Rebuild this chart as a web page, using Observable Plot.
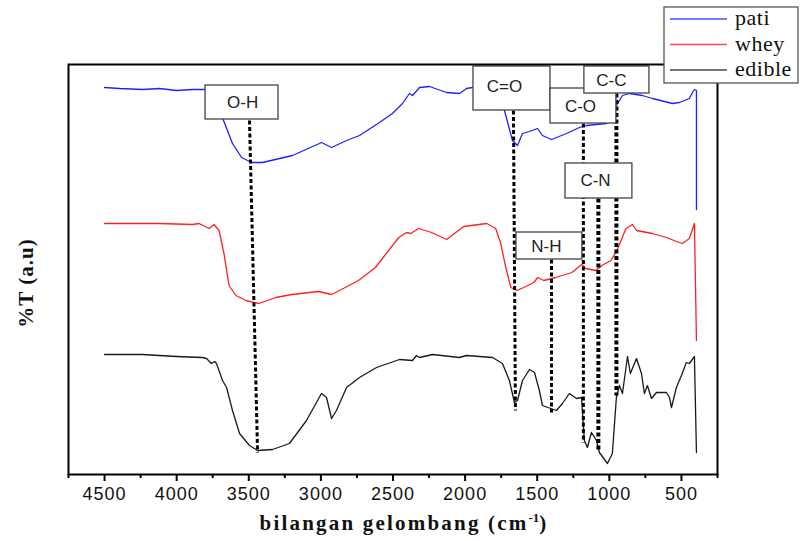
<!DOCTYPE html>
<html><head><meta charset="utf-8">
<script src="https://cdn.jsdelivr.net/npm/d3@7"></script>
<script src="https://cdn.jsdelivr.net/npm/@observablehq/plot@0.6"></script>
<style>body{margin:0;background:#fff} svg{display:block}</style>
</head><body><div id="chart"></div>
<script>
const seriesNames = ["pati", "whey", "edible"];
const seriesColors = ["#2020ff", "#ff2020", "#1a1a1a"];

const patiWn = [4500,4395,4236,4119,4001,3890,3793,3737,3703,3675,3613,3550,3480,3405,3197,3010,2996,2926,2822,2732,2594,2504,2434,2386,2365,2316,2247,2129,2039,1990,1949,1866,1762,1727,1672,1637,1602,1554,1498,1464,1401,1297,1207,1159,1020,951,909,861,771,701,563,514,445,424,410,396,396];
const patiT = [387,386,385,386,384,385,385,379,366,354,331,317,312,312,319,331,332,327,334,339,352,361,371,381,379,387,388,382,381,386,387,387,379,364,334,329,341,343,346,339,335,341,347,349,351,369,379,381,379,376,371,372,376,382,385,384,265];

const wheyWn = [4500,4119,3890,3844,3775,3741,3706,3672,3637,3589,3520,3430,3313,3202,3016,2926,2857,2740,2622,2460,2405,2377,2322,2232,2128,2010,1850,1788,1753,1718,1683,1641,1593,1524,1496,1454,1371,1260,1191,1163,1094,1052,989,947,885,840,812,701,604,535,493,445,410,396];
const wheyT = [251,251,250,251,246,250,244,221,189,179,174,171,177,180,183,180,185,194,207,237,242,241,246,242,235,248,251,246,231,207,187,184,187,192,197,194,197,202,210,206,204,209,214,224,246,250,244,241,237,233,231,236,251,134];

const edibleWn = [4500,4237,4001,3821,3793,3759,3737,3724,3682,3654,3613,3564,3495,3439,3335,3218,3100,2996,2961,2926,2892,2822,2732,2614,2455,2365,2337,2316,2226,2039,1990,1810,1741,1693,1658,1637,1602,1554,1519,1485,1464,1367,1325,1277,1228,1193,1173,1152,1124,1089,1069,1013,979,951,930,909,874,854,812,777,757,736,708,673,604,583,569,535,500,466,445,410,396];
const edibleT = [120,120,118,117,116,111,113,111,94,87,64,41,29,24,25,31,54,81,77,56,64,87,97,107,115,114,119,117,120,117,119,117,111,94,72,74,94,105,102,84,69,64,71,81,76,77,34,27,42,34,22,11,21,77,89,81,118,101,116,101,81,89,76,82,82,77,67,87,99,112,111,118,22];

const majorTicks = [4500,4000,3500,3000,2500,2000,1500,1000,500];
const minorTicks = [4750,4250,3750,3250,2750,2250,1750,1250,750,250];

// band annotations (wavenumber / a.u.)
const bandLabels = ["O-H","C=O","C-O","C-C","N-H","C-N"];
const boxX1 = [3800,1942,1408,1173,1644,1304];
const boxX2 = [3294,1408,951,722,1187,840];
const boxY1 = [355,364,351,381,215,276];
const boxY2 = [389,408,386,408,242,311];
const labelX = [3543,1727,1200,986,1436,1096];
const labelY = [372,388,368,394,228,294];
const dashX1 = [3495,1665,1180,951,1401,1076];
const dashX2 = [3439,1651,1180,951,1401,1076];
const dashY1 = [354,364,351,381,215,276];
const dashY2 = [22,64,32,79,62,24];
const dashW = [3,3,3,4,3,4];

const spectra = [];
[[patiWn, patiT], [wheyWn, wheyT], [edibleWn, edibleT]].forEach(([w, t], i) => {
  w.forEach((x, j) => spectra.push({series: seriesNames[i], wn: x, t: t[j]}));
});
const bands = bandLabels.map((label, i) => ({
  label, bx1: boxX1[i], bx2: boxX2[i], by1: boxY1[i], by2: boxY2[i],
  lx: labelX[i], ly: labelY[i],
  dx1: dashX1[i], dx2: dashX2[i], dy1: dashY1[i], dy2: dashY2[i], dw: dashW[i]
}));

const svg = Plot.plot({
  width: 801,
  height: 541,
  marginLeft: 68,
  marginRight: 84,
  marginTop: 64,
  marginBottom: 67,
  style: {background: "#fff", fontFamily: "'Liberation Sans', Arial, sans-serif"},
  x: {domain: [4750, 250], label: null},
  y: {domain: [0, 410], axis: null},
  color: {domain: seriesNames, range: seriesColors},
  marks: [
    Plot.line(spectra, {x: "wn", y: "t", z: "series", stroke: "series", strokeWidth: 1.3, curve: "linear"}),
    ...bands.map(b => Plot.link([b], {x1: "dx1", x2: "dx2", y1: "dy1", y2: "dy2", stroke: "#000", strokeWidth: b.dw, strokeDasharray: "4,2.5"})),
    Plot.rect(bands, {x1: "bx1", x2: "bx2", y1: "by1", y2: "by2", fill: "#fff", stroke: "#444", strokeWidth: 1.3}),
    Plot.text(bands, {x: "lx", y: "ly", text: "label", fontSize: 17, fill: "#222", fontFamily: "'Liberation Sans', Arial, sans-serif"}),
    Plot.axisX({ticks: minorTicks, tickSize: 4, text: null, stroke: "#000", strokeWidth: 2}),
    Plot.axisX({ticks: majorTicks, tickSize: 7, tickPadding: 6, tickFormat: d => String(d), fontSize: 18, stroke: "#000", strokeWidth: 2, fill: "#111", label: null}),
    Plot.frame({stroke: "#000", strokeWidth: 2})
  ]
});

const s = d3.select(svg);
s.selectAll("g[aria-label='x-axis tick label'] text").attr("letter-spacing", "1px");

// axis titles
const xt = s.append("text")
  .attr("x", 404).attr("y", 530)
  .attr("text-anchor", "middle")
  .attr("font-family", "'Liberation Serif', 'Times New Roman', serif")
  .attr("font-weight", "bold").attr("font-size", 21)
  .attr("letter-spacing", "2.2px").attr("fill", "#111");
xt.append("tspan").text("bilangan gelombang (cm");
xt.append("tspan").attr("font-size", 13).attr("dy", -8).attr("letter-spacing", "0px").text("-1");
xt.append("tspan").attr("dy", 8).text(")");

s.append("text")
  .attr("transform", "translate(26,283) rotate(-90)")
  .attr("text-anchor", "middle").attr("dominant-baseline", "central")
  .attr("font-family", "'Liberation Serif', 'Times New Roman', serif")
  .attr("font-weight", "bold").attr("font-size", 21)
  .attr("letter-spacing", "1px").attr("fill", "#111")
  .text("%T (a.u)");

// legend
const lg = s.append("g").attr("text-anchor", "start");
lg.append("rect").attr("x", 664).attr("y", 7).attr("width", 134).attr("height", 76)
  .attr("fill", "#fff").attr("stroke", "#555").attr("stroke-width", 1.3);
seriesNames.forEach((name, i) => {
  const yy = 19 + i * 25.5;
  lg.append("line").attr("x1", 670).attr("x2", 727).attr("y1", yy).attr("y2", yy)
    .attr("stroke", seriesColors[i]).attr("stroke-width", 1.3).attr("opacity", 0.8);
  lg.append("text").attr("x", 735).attr("y", yy + 6)
    .attr("text-anchor", "start")
    .attr("font-family", "'Liberation Serif', 'Times New Roman', serif")
    .attr("font-size", 22).attr("fill", "#111").attr("letter-spacing", "0.5px")
    .text(name);
});

document.getElementById("chart").appendChild(svg);
</script>
</body></html>
